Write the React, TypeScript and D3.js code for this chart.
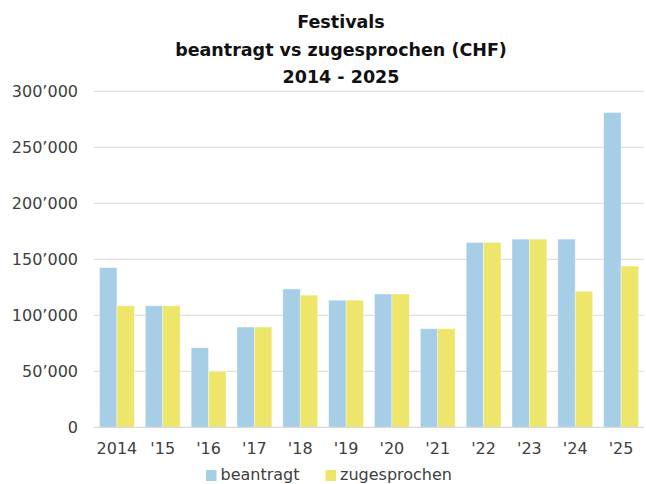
import React, { useEffect, useRef } from "react";
import * as d3 from "d3";

const YEARS = ["2014", "'15", "'16", "'17", "'18", "'19", "'20", "'21", "'22", "'23", "'24", "'25"];
const BEANTRAGT = [142500, 108500, 71000, 89500, 123500, 113500, 119000, 88000, 165000, 168000, 168000, 281000];
const ZUGESPROCHEN = [108500, 108500, 50000, 89500, 118000, 113500, 119000, 88000, 165000, 168000, 121500, 144000];
const SERIES = ["beantragt", "zugesprochen"];
const Y_TICKS = [0, 50000, 100000, 150000, 200000, 250000, 300000];
const TITLE = ["Festivals", "beantragt vs zugesprochen (CHF)", "2014 - 2025"];

const WIDTH = 646;
const HEIGHT = 484;
const COLORS = ["#a6cee6", "#eee66a"];
const FONT = "'DejaVu Sans', sans-serif";

const fmt = (v: number) => (v === 0 ? "0" : d3.format(",")(v).replace(/,/g, "\u2019"));

export default function App() {
  const ref = useRef<SVGSVGElement>(null);

  useEffect(() => {
    const svg = d3.select(ref.current);
    svg.selectAll("*").remove();

    const x = d3.scaleBand().domain(YEARS).range([94, 644]).paddingInner(0.24).paddingOuter(0.12);
    const x1 = d3.scaleBand().domain(SERIES).range([0, x.bandwidth()]);
    const y = d3.scaleLinear().domain([0, 300000]).range([427.3, 91.3]);

    // gridlines
    svg
      .append("g")
      .selectAll("line")
      .data(Y_TICKS.slice(1))
      .enter()
      .append("line")
      .attr("x1", 94)
      .attr("x2", 644)
      .attr("y1", (d) => y(d))
      .attr("y2", (d) => y(d))
      .attr("stroke", "#d9d9d9")
      .attr("stroke-width", 1);

    // y labels
    svg
      .append("g")
      .selectAll("text")
      .data(Y_TICKS)
      .enter()
      .append("text")
      .attr("x", 78)
      .attr("y", (d) => y(d))
      .attr("dy", "0.36em")
      .attr("text-anchor", "end")
      .attr("font-family", FONT)
      .attr("font-size", 16)
      .attr("fill", "#404040")
      .text((d) => fmt(d));

    const values = [BEANTRAGT, ZUGESPROCHEN];
    const groups = svg
      .append("g")
      .selectAll("g")
      .data(YEARS)
      .enter()
      .append("g")
      .attr("transform", (d) => `translate(${x(d)},0)`);

    groups
      .selectAll("rect")
      .data((_, i) => SERIES.map((s, j) => ({ s, v: values[j][i], j })))
      .enter()
      .append("rect")
      .attr("x", (d) => x1(d.s)!)
      .attr("width", x1.bandwidth())
      .attr("y", (d) => y(d.v))
      .attr("height", (d) => y(0) - y(d.v))
      .attr("fill", (d) => COLORS[d.j])
      .attr("stroke", "#ffffff")
      .attr("stroke-opacity", 0.5)
      .attr("stroke-width", 0.75);

    // x axis line
    svg
      .append("line")
      .attr("x1", 94)
      .attr("x2", 644)
      .attr("y1", y(0))
      .attr("y2", y(0))
      .attr("stroke", "#d9d9d9")
      .attr("stroke-width", 1.2);

    // x labels
    svg
      .append("g")
      .selectAll("text")
      .data(YEARS)
      .enter()
      .append("text")
      .attr("x", (d) => x(d)! + x.bandwidth() / 2)
      .attr("y", 454)
      .attr("text-anchor", "middle")
      .attr("font-family", FONT)
      .attr("font-size", 16)
      .attr("fill", "#404040")
      .text((d) => d);

    // title
    svg
      .append("g")
      .selectAll("text")
      .data(TITLE)
      .enter()
      .append("text")
      .attr("x", 341)
      .attr("y", (_, i) => 28 + i * 27.5)
      .attr("text-anchor", "middle")
      .attr("font-family", FONT)
      .attr("font-weight", "bold")
      .attr("font-size", 17.5)
      .attr("fill", "#111111")
      .text((d) => d);

    // legend (raised a little so the descenders stay inside the picture)
    const legendX = [206, 325.5];
    const legend = svg
      .append("g")
      .selectAll("g")
      .data(SERIES)
      .enter()
      .append("g")
      .attr("transform", (_, i) => `translate(${legendX[i]},0)`);
    legend
      .append("rect")
      .attr("x", 0)
      .attr("y", 470)
      .attr("width", 10.5)
      .attr("height", 11)
      .attr("fill", (_, i) => COLORS[i]);
    legend
      .append("text")
      .attr("x", 14.5)
      .attr("y", 479.5)
      .attr("font-family", FONT)
      .attr("font-size", 16)
      .attr("fill", "#404040")
      .text((d) => d);
  }, []);

  return (
    <svg
      ref={ref}
      width={WIDTH}
      height={HEIGHT}
      style={{ position: "absolute", left: 0, top: 0, background: "#ffffff" }}
    />
  );
}
